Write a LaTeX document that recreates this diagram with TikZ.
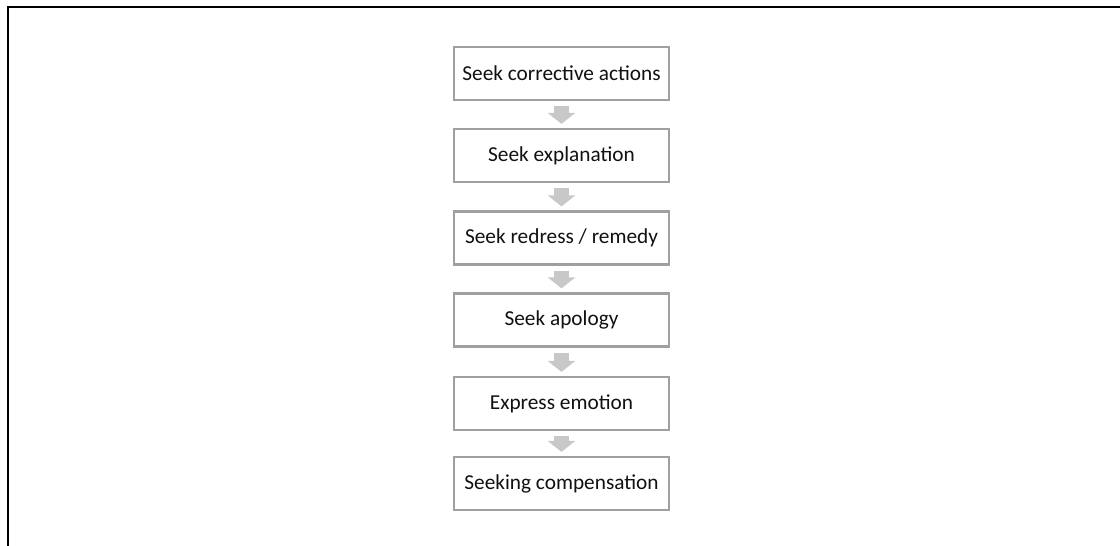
\documentclass[tikz,border=0pt]{standalone}
\usepackage{fontspec}
\setmainfont{Carlito}
\usetikzlibrary{arrows.meta}
\definecolor{boxline}{HTML}{A0A0A0}
\definecolor{flowgray}{HTML}{C8C8C8}
\definecolor{inktext}{HTML}{111111}
\begin{document}
\begin{tikzpicture}[x=1pt,y=-1pt,
  stepbox/.style={draw=boxline, line width=2.2pt, fill=white,
    minimum width=215pt, minimum height=53pt, inner sep=0pt,
    text=inktext, font=\fontsize{21.3}{25}\selectfont},
  flow/.style={draw=flowgray, line width=15pt,
    -{Triangle[width=27pt,length=11pt]},
    shorten <=5pt, shorten >=4pt}]
  \useasboundingbox (0,0) rectangle (1120,546);
  % open frame: top and left edges only
  \draw[line width=2.2pt, black] (1120,7) -- (8,7) -- (8,546);
  % steps
  \node[stepbox] (s1) at (561.5,73.5)  {Seek corrective actions};
  \node[stepbox] (s2) at (561.5,155.5) {Seek explanation};
  \node[stepbox] (s3) at (561.5,238)   {Seek redress / remedy};
  \node[stepbox] (s4) at (561.5,320)   {Seek apology};
  \node[stepbox] (s5) at (561.5,403.5) {Express emotion};
  \node[stepbox] (s6) at (561.5,483.5) {Seeking compensation};
  % block arrows between steps
  \foreach \a/\b in {s1/s2,s2/s3,s3/s4,s4/s5,s5/s6}
    \draw[flow] (\a.south) -- (\b.north);
\end{tikzpicture}
\end{document}
